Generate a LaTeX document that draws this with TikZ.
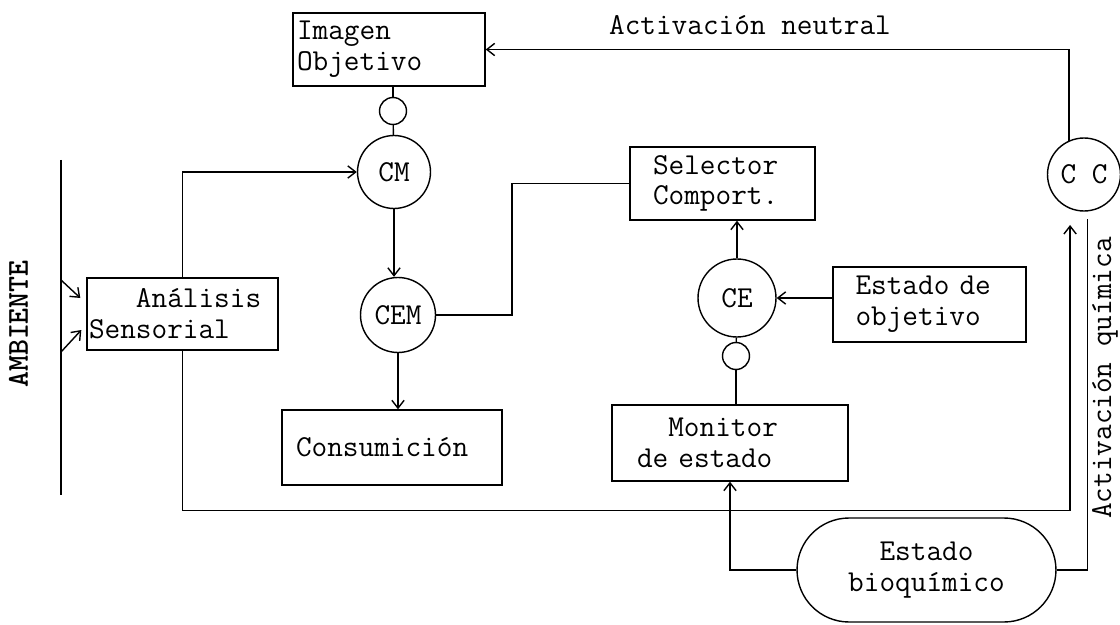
\documentclass[tikz,border=0pt]{standalone}
\usepackage{tikz}
\usetikzlibrary{arrows.meta}
\def\maq{\ttfamily\fontsize{17.3}{17.5}\selectfont}
\tikzset{
	caja/.style={draw, rectangle, font=\maq, align=left, inner ysep=0pt},
	circulo/.style={draw, circle, inner sep=0pt, font=\maq},
	bolita/.style={draw, circle, inner sep=0pt, minimum size=0.54cm},
	flecha/.style={-{Straight Barb[length=4.5pt,width=7pt]}}
}

\begin{document}
\begin{tikzpicture}[x=0.02cm, y=-0.02cm, line width=0.8pt]
			%%%%% START %%%%%
			\useasboundingbox (0,0) rectangle (1120,625);
			
			\node[caja, minimum height=1.46cm, text width=3.68cm, inner xsep=0.08cm] (imagen) at (389,49.5) {Imagen\\Objetivo};
			\node[bolita] (bol1) at (393,111) {};
			\node[circulo, minimum size=1.46cm] (cmo) at (394,172) {CM};
			\node[circulo, minimum size=1.5cm] (cem) at (398,315) {CEM};
			\node[caja, minimum height=1.5cm, text width=3.84cm, inner xsep=0.28cm] (consum) at (392,447.5) {Consumición};
			
			\node[caja, minimum height=1.44cm, text width=3.74cm, inner xsep=0.04cm] (anal) at (182.5,314) {\phantom{xxx}Análisis\\Sensorial};
			\coordinate (ambsup) at (61,160);
			\coordinate (ambinf) at (61,495);
			\draw (ambsup) -- (ambinf);
			\node[rotate=90, font=\maq\bfseries] (ambiente) at (18.5,324) {AMBIENTE};
			
			\node[caja, minimum height=1.46cm, text width=2.78cm, inner xsep=0.46cm] (selec) at (722.5,183.5) {Selector\\Comport.};
			\node[circulo, minimum size=1.56cm] (ce) at (737,298) {CE};
			\node[caja, minimum height=1.5cm, text width=2.96cm, inner xsep=0.45cm] (estobj) at (929.5,304.5) {Estado de\\objetivo};
			\node[bolita] (bol2) at (736,356) {};
			\node[caja, minimum height=1.52cm, text width=3.72cm, inner xsep=0.5cm] (monit) at (730,443) {\phantom{xx}Monitor\\de estado};
			\node[draw, rounded corners=1.04cm, minimum width=5.18cm, minimum height=2.08cm, font=\maq, align=center] (bioq) at (926.5,570) {Estado\\bioquímico};
			
			\node[circulo, minimum size=1.46cm] (cc) at (1084,174.5) {C C};
			\node[font=\maq] (neutral) at (750,25) {Activación neutral};
			\node[rotate=90, font=\maq] (quimica) at (1105,378) {Activación química};
			
			% conexiones
			\draw (bol1.north |- imagen.south) -- (bol1.north);
			\draw (bol1) -- (cmo);
			\draw[flecha] (anal.north) |- (cmo);
			\draw[flecha] (cmo.south) -- (cmo.south |- cem.north);
			\draw[flecha] (cem.south) -- (cem.south |- consum.north);
			\draw (cem.east) -- ++(76,0) |- (selec.west);
			\draw[flecha] (ce.north) -- (ce.north |- selec.south);
			\draw[flecha] (estobj.west |- ce) -- (ce);
			\draw (ce) -- (bol2);
			\draw (bol2.south) -- (bol2.south |- monit.north);
			\draw[flecha] (bioq.west) -| (monit.south);
			
			\draw[flecha] (ambsup |- 0,280) -- ([shift={(-6,-16)}]anal.west);
			\draw[flecha] (ambsup |- 0,352) -- ([shift={(-5,16)}]anal.west);
			
			\draw[flecha] (cc.114) |- (imagen.east);
			\draw[flecha, shorten >=0.32cm] (anal.south) -- ++(0,160) -| (cc.-112);
			\draw[shorten >=0.14cm] (bioq.east) -| (cc.-85);
			
			%%%%% END %%%%%
\end{tikzpicture}
\end{document}
